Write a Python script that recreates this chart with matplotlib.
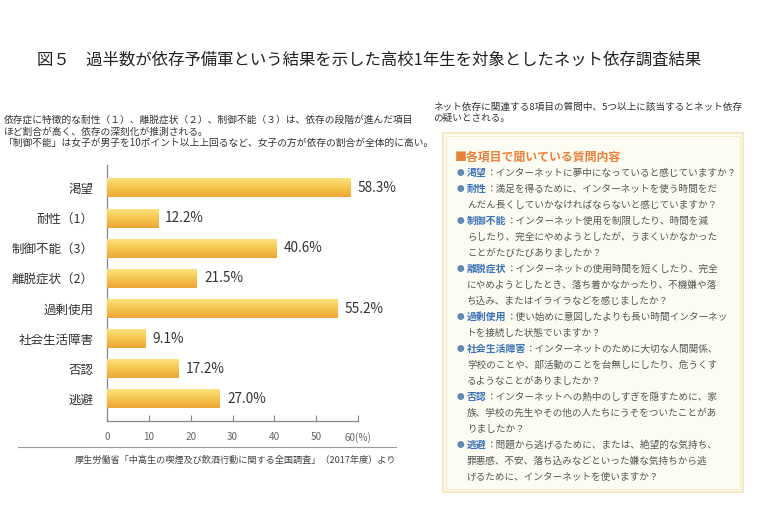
import numpy as np
import matplotlib
matplotlib.use("Agg")
import matplotlib.pyplot as plt
from matplotlib.colors import LinearSegmentedColormap
from matplotlib.patches import Rectangle

plt.rcParams['font.family'] = ['Noto Sans CJK JP', 'DejaVu Sans']

W, H = 760, 512

# ---------------------------------------------------------------------------
# Data
# ---------------------------------------------------------------------------
categories = ["渇望", "耐性（1）", "制御不能（3）", "離脱症状（2）",
              "過剰使用", "社会生活障害", "否認", "逃避"]
values = [58.3, 12.2, 40.6, 21.5, 55.2, 9.1, 17.2, 27.0]
x_ticks = [0, 10, 20, 30, 40, 50, 60]
x_tick_labels = ["0", "10", "20", "30", "40", "50", "60(%)"]

title = "図５　過半数が依存予備軍という結果を示した高校1年生を対象としたネット依存調査結果"
intro_lines = [
    "依存症に特徴的な耐性（１）、離脱症状（２）、制御不能（３）は、依存の段階が進んだ項目",
    "ほど割合が高く、依存の深刻化が推測される。",
    "「制御不能」は女子が男子を10ポイント以上上回るなど、女子の方が依存の割合が全体的に高い。",
]
note_lines = [
    "ネット依存に関連する8項目の質問中、5つ以上に該当するとネット依存",
    "の疑いとされる。",
]
source = "厚生労働省「中高生の喫煙及び飲酒行動に関する全国調査」（2017年度）より"

box_heading = "■各項目で聞いている質問内容"
question_terms = ["渇望", "耐性", "制御不能", "離脱症状", "過剰使用", "社会生活障害", "否認", "逃避"]
question_lines = [
    ["：インターネットに夢中になっていると感じていますか？"],
    ["：満足を得るために、インターネットを使う時間をだ",
     "んだん長くしていかなければならないと感じていますか？"],
    ["：インターネット使用を制限したり、時間を減",
     "らしたり、完全にやめようとしたが、うまくいかなかった",
     "ことがたびたびありましたか？"],
    ["：インターネットの使用時間を短くしたり、完全",
     "にやめようとしたとき、落ち着かなかったり、不機嫌や落",
     "ち込み、またはイライラなどを感じましたか？"],
    ["：使い始めに意図したよりも長い時間インターネッ",
     "トを接続した状態でいますか？"],
    ["：インターネットのために大切な人間関係、",
     "学校のことや、部活動のことを台無しにしたり、危うくす",
     "るようなことがありましたか？"],
    ["：インターネットへの熱中のしすぎを隠すために、家",
     "族、学校の先生やその他の人たちにうそをついたことがあ",
     "りましたか？"],
    ["：問題から逃げるために、または、絶望的な気持ち、",
     "罪悪感、不安、落ち込みなどといった嫌な気持ちから逃",
     "げるために、インターネットを使いますか？"],
]


def fx(x):
    return x / W


def fy(y):
    return 1 - y / H


fig = plt.figure(figsize=(W / 100, H / 100), dpi=100)
fig.patch.set_facecolor("white")

# ---------------------------------------------------------------------------
# Header texts
# ---------------------------------------------------------------------------
fig.text(fx(37), fy(60), title, fontsize=11.8, color="#222222", va="center")

for i, line in enumerate(intro_lines):
    fig.text(fx(4), fy(120 + i * 11.6), line, fontsize=7.0, color="#333333", va="center")

for i, line in enumerate(note_lines):
    fig.text(fx(433), fy(107 + i * 11.5), line, fontsize=6.9, color="#333333", va="center")

# ---------------------------------------------------------------------------
# Bar chart
# ---------------------------------------------------------------------------
ax = fig.add_axes([fx(107), fy(421), (358 - 107) / W, (421 - 165) / H])
ypos = np.arange(len(categories))
bars = ax.barh(ypos, values, height=0.63, color="#f3be45", edgecolor="none", zorder=2)

cmap = LinearSegmentedColormap.from_list("bar", ["#fbe27e", "#f5c64c", "#eda535"])
grad = np.linspace(0, 1, 64).reshape(-1, 1)
for bar in bars:
    x0, y0, w, h = bar.get_x(), bar.get_y(), bar.get_width(), bar.get_height()
    im = ax.imshow(grad, cmap=cmap, aspect="auto", extent=(x0, x0 + w, y0 + h, y0),
                   origin="upper", zorder=3)
    im.set_clip_path(bar)

for y, v in zip(ypos, values):
    ax.text(v + 1.7, y, f"{v:.1f}%", fontsize=9.8, color="#333333", va="center", ha="left")

ax.set_xlim(0, 60)
ax.set_ylim(7.73, -0.76)
ax.set_yticks(ypos)
ax.set_yticklabels(categories, fontsize=9, color="#333333")
ax.tick_params(axis="y", length=0, pad=9.5)
ax.set_xticks(x_ticks)
ax.set_xticklabels(x_tick_labels, fontsize=7.2, color="#666666")
ax.tick_params(axis="x", direction="in", length=4, color="#888888", pad=8)
for s in ["top", "right"]:
    ax.spines[s].set_visible(False)
for s in ["left", "bottom"]:
    ax.spines[s].set_color("#888888")
    ax.spines[s].set_linewidth(0.9)
ax.set_facecolor("none")

# separator + source
fig.add_artist(plt.Line2D([fx(18), fx(396)], [fy(447), fy(447)], color="#999999", lw=0.8))
fig.text(fx(396), fy(460), source, fontsize=6.6, color="#444444", ha="right", va="center")

# ---------------------------------------------------------------------------
# Question box
# ---------------------------------------------------------------------------
fig.add_artist(Rectangle((fx(443), fy(492)), 300 / W, (492 - 133) / H,
                         transform=fig.transFigure, facecolor="#fdfcf3",
                         edgecolor="#f3eac4", lw=1.6, zorder=0))
fig.add_artist(Rectangle((fx(446), fy(489)), 294 / W, (489 - 136) / H,
                         transform=fig.transFigure, facecolor="none",
                         edgecolor="#f1e7bd", lw=0.5, zorder=0))

fig.text(fx(455), fy(157), box_heading, fontsize=8.6, color="#e8823a",
         fontweight="bold", va="center")

fig.canvas.draw()
renderer = fig.canvas.get_renderer()

line_y = 173
for term, lines in zip(question_terms, question_lines):
    fig.text(fx(457), fy(line_y), "●", fontsize=5.5, color="#6288b8", va="center")
    t = fig.text(fx(467), fy(line_y), term, fontsize=7.1, color="#3d72b8",
                 fontweight="bold", va="center")
    bb = t.get_window_extent(renderer)
    fig.text(bb.x1 / W, fy(line_y), lines[0], fontsize=6.9, color="#555555", va="center")
    line_y += 16
    for extra in lines[1:]:
        fig.text(fx(467), fy(line_y), extra, fontsize=6.9, color="#555555", va="center")
        line_y += 16

fig.savefig("out.png", dpi=100, facecolor="white")
